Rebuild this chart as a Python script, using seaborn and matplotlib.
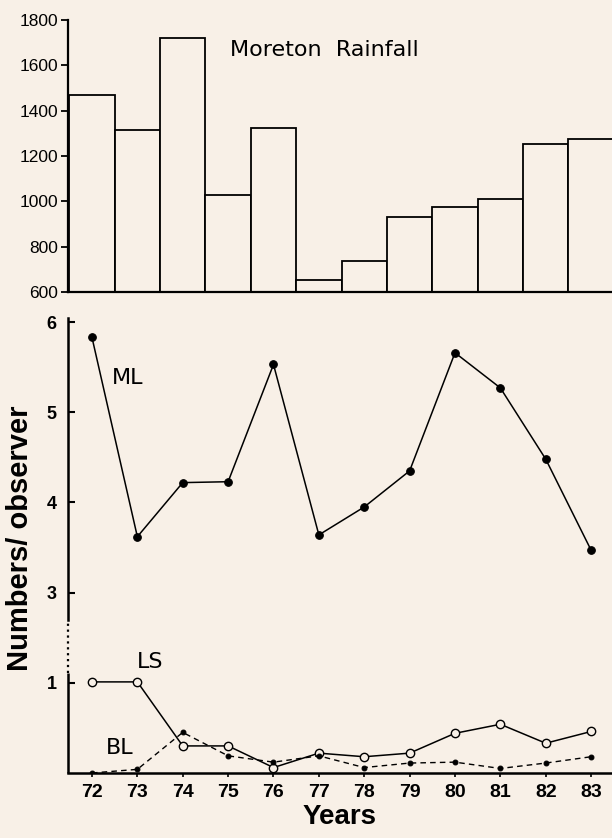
import numpy as np
import pandas as pd
import matplotlib
matplotlib.use("Agg")
import matplotlib.pyplot as plt
import seaborn as sb

# values
years = [72, 73, 74, 75, 76, 77, 78, 79, 80, 81, 82, 83]
rainfall = [1470, 1315, 1720, 1030, 1325, 652, 735, 932, 977, 1010, 1255, 1274]
ml = [5.83, 3.62, 4.22, 4.23, 5.53, 3.64, 3.95, 4.35, 5.66, 5.27, 4.48, 3.47]
ls = [1.02, 1.02, 0.30, 0.30, 0.06, 0.22, 0.18, 0.22, 0.44, 0.54, 0.33, 0.46]
bl = [0.00, 0.04, 0.45, 0.19, 0.12, 0.19, 0.06, 0.11, 0.12, 0.05, 0.11, 0.18]
rain_ticks = [600, 800, 1000, 1200, 1400, 1600, 1800]
num_ticks = [1, 3, 4, 5, 6]

bg = "#f8f0e7"
sb.set_theme(style="ticks", rc={"axes.facecolor": bg, "figure.facecolor": bg,
                                "text.color": "black", "axes.labelcolor": "black"})
plt.rcParams["font.family"] = ["Liberation Sans", "DejaVu Sans"]

rain_df = pd.DataFrame({"year": years, "rain": rainfall})
counts = pd.DataFrame({"year": years, "ML": ml, "LS": ls, "BL": bl})

fig = plt.figure(figsize=(6.12, 8.38), dpi=100)
ax1 = fig.add_axes([0.111, 0.6516, 0.889, 0.3244])
ax2 = fig.add_axes([0.111, 0.0776, 0.889, 0.5434])
xlim = (71.47, 83.46)

# rainfall histogram
sb.barplot(data=rain_df, x="year", y="rain", native_scale=True, width=1,
           color=bg, saturation=1, edgecolor="black", linewidth=1.3, ax=ax1)
ax1.set_xlim(xlim)
ax1.set_ylim(600, 1800)
ax1.set_yticks(rain_ticks)
ax1.set_xticks([])
ax1.set_xlabel("")
ax1.set_ylabel("")
for s in ["top", "right"]:
    ax1.spines[s].set_visible(False)
for s in ["left", "bottom"]:
    ax1.spines[s].set_linewidth(1.6)
    ax1.spines[s].set_color("black")
ax1.tick_params(axis="y", direction="out", length=5, width=1.3, pad=2,
                labelsize=12.5, colors="black")
ax1.text(75.05, 1670, "Moreton  Rainfall", fontsize=16, family="DejaVu Sans",
         va="center", ha="left")

# numbers per observer
sb.lineplot(data=counts, x="year", y="ML", color="black", marker="o",
            markersize=5.5, markeredgecolor="black", linewidth=1.1, ax=ax2)
sb.lineplot(data=counts, x="year", y="LS", color="black", marker="o",
            markersize=6, markerfacecolor=bg, markeredgecolor="black",
            markeredgewidth=1.0, linewidth=1.1, ax=ax2)
sb.lineplot(data=counts, x="year", y="BL", color="black", marker="o",
            markersize=3.5, markeredgecolor="black", linestyle=(0, (4, 3)),
            linewidth=1.0, ax=ax2)


def fwd(y):
    y = np.asarray(y, dtype=float)
    return np.where(y <= 1, y, np.where(y < 3, 1 + (y - 1) / 2, y - 1))


def inv(p):
    p = np.asarray(p, dtype=float)
    return np.where(p <= 1, p, np.where(p < 2, 1 + 2 * (p - 1), p + 1))


ax2.set_yscale("function", functions=(fwd, inv))
ax2.set_xlim(xlim)
ax2.set_ylim(0, 6.05)
ax2.set_yticks(num_ticks)
ax2.set_yticklabels([str(t) for t in num_ticks])
ax2.set_xticks(years)
ax2.set_xticklabels([str(y) for y in years])
for s in ["top", "right"]:
    ax2.spines[s].set_visible(False)
for s in ["left", "bottom"]:
    ax2.spines[s].set_linewidth(1.8)
    ax2.spines[s].set_color("black")
# broken y axis: solid top part, dotted gap, solid bottom part
ax2.spines["left"].set_bounds(2.4, 6.05)
ax2.vlines(xlim[0], 0, 1.22, color="black", lw=1.8, clip_on=False)
ax2.vlines(xlim[0], 1.22, 2.4, color="black", lw=1.6, linestyles=":",
           clip_on=False)
ax2.tick_params(axis="y", direction="in", length=5, width=1.5, pad=8,
                labelsize=13, colors="black")
ax2.tick_params(axis="x", direction="out", length=3, width=1.2, pad=5,
                labelsize=14, colors="black")
for lab in ax2.get_xticklabels() + ax2.get_yticklabels():
    lab.set_fontweight("bold")
ax2.set_xlabel("Years", fontsize=20, fontweight="bold", labelpad=2)
ax2.set_ylabel("Numbers/ observer", fontsize=21, fontweight="bold")
ax2.yaxis.set_label_coords(-0.062, 0.515)

ax2.text(72.44, 5.38, "ML", fontsize=16, family="DejaVu Sans", va="center")
ax2.text(73.0, 1.46, "LS", fontsize=16, family="DejaVu Sans", va="center")
ax2.text(72.31, 0.277, "BL", fontsize=16, family="DejaVu Sans", va="center")

fig.savefig("out.png", dpi=100, facecolor=bg)
